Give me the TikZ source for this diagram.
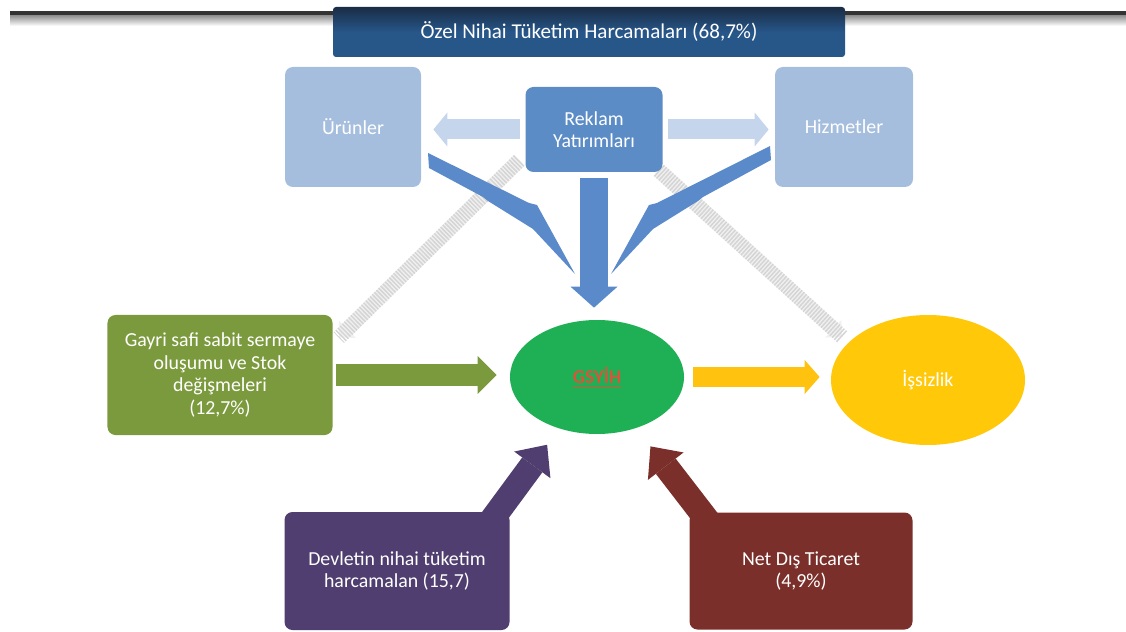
\documentclass[tikz,border=0pt]{standalone}
\usepackage{fontspec}
\setmainfont{Carlito}
\usepackage{tikz}
\usetikzlibrary{arrows.meta,shapes.geometric,backgrounds,calc}
\definecolor{titleblue}{HTML}{275689}
\definecolor{titletop}{HTML}{1A2C44}
\definecolor{paleblue}{HTML}{A6BEDE}
\definecolor{midblue}{HTML}{5B8CC6}
\definecolor{arrowblue}{HTML}{5A8ACA}
\definecolor{lightarrow}{HTML}{C5D6EC}
\definecolor{olivegreen}{HTML}{7B9A3D}
\definecolor{gsgreen}{HTML}{1FB056}
\definecolor{gsred}{HTML}{D9553A}
\definecolor{amber}{HTML}{FFC20E}
\definecolor{amberfill}{HTML}{FFC90A}
\definecolor{plum}{HTML}{4F3E6F}
\definecolor{darkred}{HTML}{7B2F2A}
\definecolor{stripe}{HTML}{D5D5D5}
\definecolor{stripebg}{HTML}{F1F1F1}

\begin{document}
\begin{tikzpicture}[x=0.2mm,y=-0.2mm,
	box/.style={rounded corners=1.6mm,inner sep=1mm,text=white,align=center,font=\fontsize{11.3}{12.8}\selectfont},
	blob/.style={ellipse,inner sep=0pt,align=center,font=\fontsize{11.3}{12.8}\selectfont},
	fat/.style n args={3}{line width=#1,-{Triangle[width=#2,length=#3,line width=0pt]}},
	hatch/.style={line width=3mm,draw=stripebg,-{Triangle[width=4.8mm,length=2.4mm,line width=0pt]},
		postaction={draw=stripe,dash pattern=on 0.3mm off 0.3mm,-}}]
					\useasboundingbox (0,0) rectangle (1126,632);
					\shade[top color=black!45,bottom color=white] (10,15) rectangle (1126,26);
					\fill[black!80] (10,11) rectangle (1126,15);
					\node[box,rounded corners=0.6mm,top color=titletop,bottom color=titleblue,middle color=titleblue,
						minimum width=102.4mm,minimum height=10mm,font=\fontsize{12}{14}\selectfont] (title) at (589,32) {Özel Nihai Tüketim Harcamaları (68,7\%)};
					\node[box,fill=paleblue,minimum width=27.2mm,minimum height=24mm] (urun) at (353,127) {Ürünler};
					\node[box,fill=midblue,minimum width=27.4mm,minimum height=17mm] (reklam) at (594,129.5) {Reklam\\Yatırımları};
					\node[box,fill=paleblue,minimum width=27.6mm,minimum height=24mm] (hizm) at (844,127) {Hizmetler};
					\node[box,fill=olivegreen,minimum width=45mm,minimum height=24mm] (gayri) at (220,375) {Gayri safi sabit sermaye\\oluşumu ve Stok\\değişmeleri\\(12,7\%)};
					\node[blob,fill=gsgreen,text=gsred,minimum width=34.8mm,minimum height=22.8mm,font=\fontsize{11}{12}\selectfont\bfseries] (gsyih) at (597,377) {\underline{GSYİH}};
					\node[blob,fill=amberfill,text=white,minimum width=38.8mm,minimum height=26mm] (issiz) at (928,380) {İşsizlik};
					\node[box,fill=plum,minimum width=45mm,minimum height=23.6mm] (devlet) at (397,571) {Devletin nihai tüketim\\harcamalan (15,7)};
					\node[box,fill=darkred,minimum width=44.6mm,minimum height=23.4mm] (net) at (801,571) {Net Dış Ticaret\\(4,9\%)};
					\begin{scope}[on background layer]
					\draw[hatch] ($(reklam.south west)+(-6,-12)$) -- ($(gayri.north east)+(6,23)$);
					\draw[hatch] ($(reklam.south east)+(-4,-2)$) -- ($(issiz.north west)+(-17,3)$);
					\fill[arrowblue] (428,153) -- (529,203) -- (537,205) -- (575,274) -- (533,229)
						-- (488,201) -- (483,197) -- (429,168) -- cycle;
					\fill[arrowblue] (770,146) -- (657,203) -- (649,205) -- (611,274) -- (653,229)
						-- (698,201) -- (703,197) -- (771,160) -- cycle;
					\draw[fat={4mm}{6.8mm}{2.8mm},lightarrow,shorten <=1mm,shorten >=2.4mm] (reklam.west) -- (reklam.west -| urun.east);
					\draw[fat={4mm}{6.8mm}{2.8mm},lightarrow,shorten <=1mm,shorten >=1.2mm] (reklam.east) -- (reklam.east -| hizm.west);
					\draw[fat={5.6mm}{9.4mm}{4.2mm},arrowblue,shorten <=1.2mm,shorten >=2.4mm] (reklam.south) -- (reklam.south |- gsyih.north);
					\draw[fat={4.4mm}{7.6mm}{3.8mm},olivegreen,shorten <=0.6mm,shorten >=2.6mm] (gayri.east) -- (gayri.east -| gsyih.west);
					\draw[fat={4mm}{6.8mm}{3mm},amber,shorten <=1.8mm,shorten >=2.2mm] (gsyih.east) -- (gsyih.east -| issiz.west);
					\draw[fat={5mm}{9mm}{5mm},plum,shorten <=-4mm,shorten >=4mm] ($(devlet.north east)+(-12,0)$) -- (gsyih);
					\draw[fat={5mm}{9mm}{5mm},darkred,shorten <=-4mm,shorten >=4.6mm] ($(net.north west)+(12,0)$) -- (gsyih);
					\end{scope}
				\end{tikzpicture}
\end{document}
